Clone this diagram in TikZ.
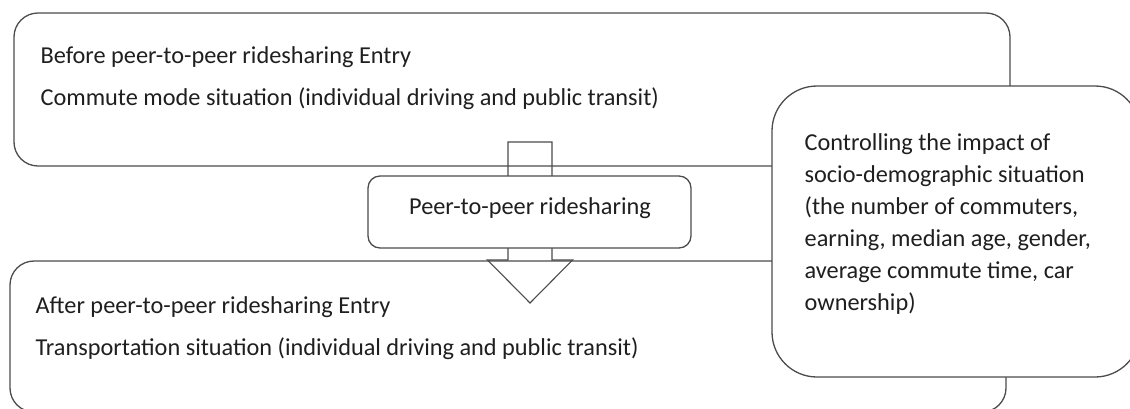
\documentclass[tikz,border=0pt]{standalone}
\usepackage{fontspec}
\setmainfont{Carlito}
\usepackage{tikz}

\begin{document}
\begin{tikzpicture}[x=1pt,y=-1pt,line width=1.3pt,draw=black!70]
    \tikzstyle{box}=[rectangle,draw=black!70,fill=white,inner sep=0pt]
    \tikzstyle{stage}=[box,minimum width=996pt,rounded corners=24pt]
    \tikzstyle{annot}=[anchor=base west,inner sep=0pt,text=black!88,font=\fontsize{24.3}{32}\selectfont]

    \useasboundingbox (0,0) rectangle (1130,408);
    \clip (0,0) rectangle (1130,408);

    % Draw the before and after stages
    \node[stage,minimum height=153pt] (before) at (512,89.5) {};
    \node[stage,minimum height=151pt] (after) at (508,336.5) {};

    % Block arrow from before to after
    \coordinate (A) at (508,142);
    \draw[line width=1.1pt] (A) -- ++(44,0) -- ++(0,118) -- ++(20.5,0)
        -- ++(-42.5,43) -- ++(-42.5,-43) -- ++(20.5,0) -- cycle;

    % Draw the treatment and the control box
    \node[box,minimum width=323pt,minimum height=72pt,rounded corners=12pt] (P2P) at (529.5,212) {};
    \node[box,minimum width=368pt,minimum height=291pt,rounded corners=45pt] (ctrl) at (956,231.5) {};

    % Annotate the boxes
    \node[annot] (B-1) at (40,63) {Before peer-to-peer ridesharing Entry};
    \node[annot] (B-2) at (40,105) {Commute mode situation (individual driving and public transit)};
    \node[annot] (A-1) at (35,313) {After peer-to-peer ridesharing Entry};
    \node[annot] (A-2) at (35,355) {Transportation situation (individual driving and public transit)};
    \node[annot,anchor=base] (P-1) at (530,214) {Peer-to-peer ridesharing};
    % base of a multi-line node is its last line
    \node[annot,align=left] (C-1) at (804,310)
        {Controlling the impact of\\socio-demographic situation\\(the number of commuters,\\earning, median age, gender,\\average commute time, car\\ownership)};
\end{tikzpicture}
\end{document}
